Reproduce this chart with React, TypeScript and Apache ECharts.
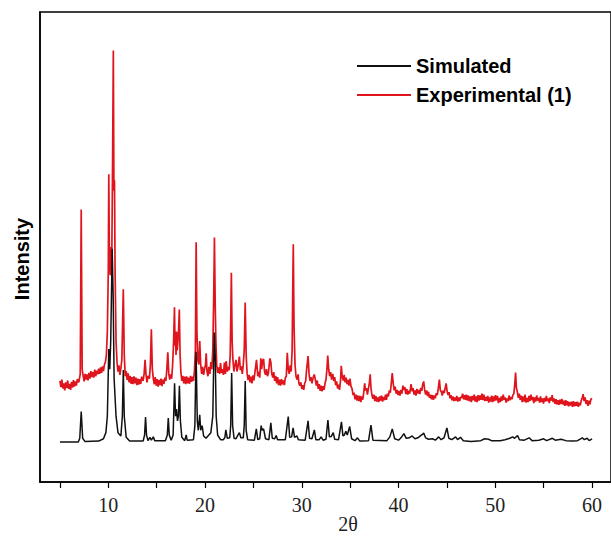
import React, { useEffect, useRef } from "react";
import * as echarts from "echarts";

// x tick values / labels
const tickValues = [5, 10, 15, 20, 25, 30, 35, 40, 45, 50, 55, 60];
const labelValues = [10, 20, 30, 40, 50, 60];

// Simulated pattern [2θ, intensity]
const simulated: number[][] = [
  [5, 8.5], [6.9, 8.5], [7.05, 9.3], [7.2, 15.0], [7.35, 9.3], [7.6, 8.6], [9.0, 8.7], [9.5, 9.2], [9.75, 10.5], [9.9, 14],
  [10.05, 28.3], [10.15, 24], [10.25, 30], [10.4, 49.6], [10.5, 40], [10.6, 22], [10.8, 14], [11.0, 10.5], [11.3, 9.8], [11.45, 14],
  [11.55, 23.8], [11.65, 14], [11.85, 9.5], [12.2, 8.7], [13.6, 8.7], [13.75, 10], [13.85, 13.8], [13.95, 10], [14.1, 8.8], [14.3, 9.5],
  [14.45, 8.9], [14.65, 9.6], [14.8, 8.8], [15.9, 8.8], [16.1, 10], [16.2, 13.6], [16.3, 10], [16.5, 8.9], [16.7, 10], [16.85, 21],
  [16.95, 14], [17.05, 15.5], [17.15, 13], [17.25, 14], [17.35, 20.5], [17.45, 13], [17.6, 9.5], [17.9, 8.8], [18.05, 10], [18.15, 8.9],
  [18.8, 9.0], [18.95, 12], [19.07, 27.7], [19.2, 13], [19.3, 11], [19.45, 14.3], [19.55, 11], [19.7, 12], [19.85, 9.8], [20.1, 9.3],
  [20.3, 9.8], [20.6, 10.5], [20.8, 14], [20.95, 31.8], [21.05, 27], [21.15, 14], [21.3, 10], [21.6, 9], [21.9, 9], [22.05, 9.5],
  [22.15, 11.1], [22.3, 9.3], [22.55, 9.4], [22.65, 12], [22.75, 23.2], [22.85, 12], [23.0, 9.3], [23.2, 9.2], [23.35, 9.8], [23.55, 10.5],
  [23.7, 9.4], [23.95, 9.4], [24.05, 12], [24.15, 21.5], [24.25, 11], [24.4, 9], [25.1, 8.9], [25.3, 11.3], [25.45, 9], [25.65, 9.2],
  [25.8, 12], [25.9, 11], [26.05, 11.3], [26.25, 9.2], [26.6, 9], [26.8, 12.6], [26.95, 9.3], [27.2, 9.2], [27.35, 9.9], [27.5, 9],
  [28.3, 9], [28.6, 13.9], [28.75, 9.5], [28.95, 9.6], [29.1, 11.5], [29.25, 9.5], [29.5, 9.8], [29.65, 9.0], [30.35, 8.9], [30.65, 13.0],
  [30.8, 9.3], [31.05, 9.2], [31.3, 11.1], [31.45, 9], [31.8, 9], [32.0, 9.6], [32.2, 8.9], [32.5, 9.1], [32.7, 13.2], [32.85, 9.6],
  [33.05, 9.7], [33.25, 10.5], [33.4, 9.1], [33.8, 9.0], [34.1, 12.8], [34.25, 9.8], [34.4, 10], [34.55, 10.8], [34.7, 10.0], [34.95, 11.8],
  [35.15, 9.2], [35.5, 8.8], [35.75, 9.4], [36.0, 8.7], [36.9, 8.8], [37.15, 12.1], [37.35, 8.9], [38.8, 8.8], [39.1, 9.6], [39.35, 11.3],
  [39.6, 9.2], [40.0, 8.9], [40.25, 9.4], [40.55, 10.3], [40.8, 9.3], [41.1, 9.4], [41.4, 9.8], [41.7, 9.2], [42.0, 9.4], [42.25, 9.8],
  [42.5, 10.2], [42.6, 10.4], [42.8, 9.4], [43.1, 9.1], [43.5, 9.2], [43.8, 8.9], [44.15, 9.6], [44.4, 9.0], [44.7, 9.4], [45.0, 11.5],
  [45.2, 9.3], [45.5, 9.0], [45.9, 9.6], [46.1, 9.0], [46.4, 9.5], [46.7, 8.8], [47.5, 8.6], [48.5, 8.8], [48.9, 9.2], [49.3, 9.1],
  [49.6, 8.8], [50.5, 8.8], [51.0, 9.0], [51.5, 9.3], [51.8, 9.6], [52.0, 9.3], [52.3, 9.9], [52.5, 9.0], [53.0, 8.9], [53.5, 9.4],
  [53.8, 8.8], [54.5, 8.9], [55.0, 9.2], [55.3, 8.8], [55.9, 9.3], [56.2, 8.9], [56.8, 9.1], [57.3, 8.8], [58.0, 8.7], [58.5, 8.8],
  [59.0, 9.4], [59.2, 9.0], [59.5, 9.3], [59.7, 8.8], [60, 9.2],
];

// Experimental pattern (1) [2θ, intensity] (offset upward)
const experimental: number[][] = [
  [5.0, 21.5], [5.1, 20.2], [5.2, 21.8], [5.3, 19.9], [5.4, 21.0], [5.5, 19.5], [5.6, 21.2], [5.7, 20.0], [5.8, 21.6], [5.9, 19.8],
  [6.0, 20.9], [6.1, 19.6], [6.2, 21.3], [6.3, 20.1], [6.4, 21.7], [6.5, 20.3], [6.6, 21.4], [6.7, 20.5], [6.8, 21.9], [6.95, 21.2],
  [7.1, 23], [7.2, 58], [7.3, 24],
  [7.4, 22.6], [7.5, 21.4], [7.6, 23.0], [7.7, 21.8], [7.8, 22.9], [7.9, 21.6], [8.0, 23.2], [8.1, 22.0], [8.2, 23.6], [8.3, 22.3],
  [8.4, 23.4], [8.5, 22.2], [8.6, 23.9], [8.7, 22.5], [8.8, 23.7], [8.9, 22.9], [9.0, 24.1], [9.1, 23.0], [9.2, 24.4], [9.3, 23.2],
  [9.4, 24.6], [9.5, 23.6], [9.6, 25.0], [9.7, 25.5], [9.8, 27], [9.9, 32],
  [10.0, 45], [10.05, 65.5], [10.12, 46], [10.2, 44], [10.28, 50], [10.35, 45], [10.45, 70], [10.52, 91.8], [10.58, 62], [10.64, 64.2],
  [10.7, 45], [10.8, 30], [10.9, 25.5], [11.0, 23.5], [11.1, 24.8], [11.2, 22.8], [11.3, 24.2], [11.4, 26], [11.55, 41], [11.65, 27],
  [11.75, 22.5], [11.85, 23.6], [11.95, 21.7], [12.05, 23.1], [12.15, 21.2], [12.25, 22.6], [12.35, 20.9], [12.45, 22.3], [12.55, 20.8], [12.65, 22.5],
  [12.75, 21.0], [12.85, 22.2], [12.95, 20.6], [13.05, 22.0], [13.15, 20.7], [13.25, 21.9], [13.35, 20.9], [13.45, 22.4], [13.6, 21.5], [13.7, 23],
  [13.8, 26], [13.9, 22.8], [14.0, 21.2], [14.1, 22.6], [14.25, 22.0], [14.35, 25], [14.45, 32.5], [14.55, 24], [14.65, 22.0], [14.75, 20.8],
  [14.85, 22.3], [14.95, 20.5], [15.05, 21.9], [15.15, 20.3], [15.25, 21.7], [15.35, 20.6], [15.45, 22.0], [15.55, 20.4], [15.65, 21.8], [15.75, 20.9],
  [15.85, 22.2], [15.95, 21.5], [16.05, 24], [16.15, 27.6], [16.25, 23], [16.35, 21.8], [16.45, 22.9], [16.55, 22.0], [16.65, 25], [16.75, 30],
  [16.84, 37.2], [16.9, 29], [16.95, 31], [17.0, 27], [17.05, 32], [17.12, 28], [17.2, 30], [17.28, 33], [17.34, 36.7], [17.42, 27],
  [17.5, 23.5], [17.6, 21.5], [17.7, 22.6], [17.8, 21.0], [17.9, 22.4], [18.0, 20.8], [18.1, 22.5], [18.2, 21.0], [18.3, 22.2], [18.4, 20.9],
  [18.5, 22.6], [18.6, 21.3], [18.7, 22.4], [18.8, 21.5], [18.9, 23.5], [19.0, 28], [19.08, 51], [19.16, 32], [19.25, 26], [19.35, 25],
  [19.45, 30], [19.55, 25], [19.65, 23], [19.75, 24.5], [19.85, 22.8], [19.95, 24], [20.05, 25], [20.12, 27.4], [20.2, 23.5], [20.3, 22.5],
  [20.4, 24.5], [20.5, 23], [20.6, 25.5], [20.7, 24], [20.8, 28], [20.9, 40], [20.97, 52], [21.05, 38], [21.12, 30], [21.2, 25],
  [21.3, 23.2], [21.4, 24.4], [21.5, 23], [21.6, 25.3], [21.7, 23.2], [21.8, 24], [21.9, 22.8], [22.0, 25.4], [22.1, 23], [22.18, 25.7],
  [22.3, 23.5], [22.4, 24.5], [22.5, 23.8], [22.6, 27], [22.66, 35], [22.72, 44.5], [22.8, 30], [22.88, 26], [22.98, 23.5], [23.08, 24.8],
  [23.2, 26], [23.3, 23.5], [23.4, 24.5], [23.55, 26.7], [23.65, 23.8], [23.75, 24.6], [23.85, 23], [23.95, 25], [24.05, 28], [24.15, 38.2],
  [24.25, 27], [24.35, 23], [24.45, 21.7], [24.55, 22.8], [24.65, 21.2], [24.75, 22.4], [24.85, 21.0], [24.95, 22.7], [25.05, 21.6], [25.15, 23.2],
  [25.32, 26], [25.45, 22.5], [25.55, 23.5], [25.65, 22.2], [25.77, 26.3], [25.85, 24], [25.95, 25.8], [26.05, 26.2], [26.15, 23.5], [26.25, 22.8],
  [26.35, 24], [26.45, 22.5], [26.55, 23.2], [26.7, 26.3], [26.8, 25.5], [26.9, 23], [27.0, 22.2], [27.1, 23.4], [27.2, 21.5], [27.3, 22.6],
  [27.4, 21.0], [27.5, 22.3], [27.6, 20.6], [27.7, 21.8], [27.8, 20.5], [27.9, 21.9], [28.0, 20.8], [28.1, 21.6], [28.2, 20.6], [28.3, 22.2],
  [28.4, 22.5], [28.5, 27.5], [28.6, 24], [28.7, 23], [28.8, 24.8], [28.9, 23.5], [29.0, 28], [29.06, 40], [29.12, 50.6], [29.2, 33],
  [29.3, 25], [29.4, 22.5], [29.5, 21.8], [29.62, 22.9], [29.7, 21], [29.8, 20.5], [29.9, 21.2], [30.0, 19.8], [30.1, 20.6], [30.2, 19.6],
  [30.3, 21], [30.4, 21.5], [30.5, 24], [30.65, 26.8], [30.75, 23], [30.85, 21.5], [30.95, 22.3], [31.05, 21], [31.15, 22], [31.28, 22.9],
  [31.4, 21.8], [31.5, 20.5], [31.6, 21.6], [31.7, 19.8], [31.8, 20.8], [31.9, 19.4], [32.0, 20.5], [32.1, 19.3], [32.2, 20.4], [32.3, 19.6],
  [32.4, 21], [32.5, 21.8], [32.6, 24], [32.68, 26.9], [32.78, 24], [32.88, 22.5], [32.98, 23.4], [33.08, 21.8], [33.2, 23], [33.3, 21.5],
  [33.4, 22.3], [33.5, 20.6], [33.6, 21.4], [33.7, 19.9], [33.8, 20.7], [33.9, 19.6], [34.0, 21.5], [34.08, 24.7], [34.18, 22.4], [34.28, 21.6],
  [34.38, 22.8], [34.48, 21.2], [34.58, 22.2], [34.68, 20.8], [34.78, 21.7], [34.88, 20.5], [34.98, 22], [35.08, 20.4], [35.2, 19.8], [35.3, 18.5],
  [35.4, 19], [35.5, 17.6], [35.6, 18.6], [35.7, 17.3], [35.8, 18.4], [35.9, 17.2], [36.0, 18.3], [36.1, 17.0], [36.2, 18.2], [36.3, 17.5],
  [36.4, 19], [36.5, 21], [36.58, 19.5], [36.68, 20], [36.78, 18.6], [36.88, 19.8], [36.98, 21], [37.07, 22.9], [37.15, 20], [37.25, 18.5],
  [37.35, 17.7], [37.45, 18.6], [37.55, 17.2], [37.65, 18.3], [37.75, 17.1], [37.85, 18.0], [37.95, 17.0], [38.05, 18.2], [38.15, 17.3], [38.25, 18.4],
  [38.35, 17.1], [38.45, 18.1], [38.55, 17.4], [38.65, 18.6], [38.75, 17.5], [38.85, 18.8], [38.95, 18.2], [39.05, 19.5], [39.15, 19.0], [39.25, 21],
  [39.35, 23.2], [39.45, 21], [39.55, 19.5], [39.65, 20.3], [39.75, 18.8], [39.85, 19.6], [39.95, 18.5], [40.05, 19.4], [40.15, 18.4], [40.25, 19.6],
  [40.35, 18.8], [40.45, 20.5], [40.55, 19.6], [40.65, 20.2], [40.75, 18.7], [40.85, 19.8], [40.95, 18.6], [41.05, 19.4], [41.15, 18.8], [41.3, 20.8],
  [41.4, 19.3], [41.5, 20], [41.6, 18.6], [41.7, 19.5], [41.8, 18.4], [41.9, 19.8], [42.0, 18.8], [42.1, 19.6], [42.2, 18.7], [42.3, 20],
  [42.4, 19.4], [42.5, 20.8], [42.6, 21.4], [42.7, 19.6], [42.8, 18.6], [42.9, 19.5], [43.0, 18.3], [43.1, 19.2], [43.2, 17.9], [43.3, 18.6],
  [43.4, 17.6], [43.5, 18.5], [43.6, 17.5], [43.7, 18.4], [43.8, 17.8], [43.9, 18.9], [44.0, 18.5], [44.1, 19.8], [44.22, 21.8], [44.32, 19.5],
  [44.42, 19.2], [44.52, 18.4], [44.62, 19.5], [44.72, 18.9], [44.82, 20], [44.92, 21], [45.02, 19.3], [45.12, 18.5], [45.22, 19.1], [45.32, 17.8],
  [45.42, 18.5], [45.52, 17.4], [45.62, 18.2], [45.72, 17.2], [45.82, 18.0], [45.92, 17.3], [46.02, 18.3], [46.12, 17.1], [46.22, 18.0], [46.32, 17.2],
  [46.42, 18.1], [46.52, 17.9], [46.62, 18.8], [46.72, 17.6], [46.82, 18.5], [46.92, 17.5], [47.02, 18.6], [47.12, 17.3], [47.22, 18.4], [47.32, 17.2],
  [47.42, 18.2], [47.52, 17.0], [47.62, 18.3], [47.72, 17.4], [47.82, 18.6], [47.92, 17.1], [48.02, 18.2], [48.12, 17.0], [48.22, 18.5], [48.32, 17.3],
  [48.42, 18.4], [48.52, 17.5], [48.62, 18.8], [48.72, 17.4], [48.82, 18.6], [48.92, 17.2], [49.02, 18.1], [49.12, 17.3], [49.22, 18.3], [49.32, 16.9],
  [49.42, 18.0], [49.52, 17.1], [49.62, 18.4], [49.72, 17.0], [49.82, 18.2], [49.92, 17.2], [50.02, 18.5], [50.12, 17.4], [50.22, 18.3], [50.32, 16.8],
  [50.42, 17.9], [50.52, 17.0], [50.62, 18.2], [50.72, 17.3], [50.82, 18.6], [50.92, 17.5], [51.02, 18.0], [51.12, 16.9], [51.22, 17.8], [51.32, 17.2],
  [51.42, 18.4], [51.52, 17.4], [51.62, 18.1], [51.72, 17.6], [51.82, 18.5], [51.92, 18.8], [52.02, 21], [52.1, 23.3], [52.18, 20], [52.28, 19.2],
  [52.38, 17.9], [52.48, 18.8], [52.58, 17.5], [52.68, 18.4], [52.78, 17.0], [52.88, 18.2], [52.98, 17.1], [53.08, 18.6], [53.18, 16.9], [53.28, 17.9],
  [53.38, 17.0], [53.48, 18.3], [53.58, 17.2], [53.68, 18.6], [53.78, 17.4], [53.88, 18.1], [53.98, 16.8], [54.08, 18.0], [54.18, 17.1], [54.28, 18.4],
  [54.38, 17.3], [54.48, 17.9], [54.58, 16.9], [54.68, 18.2], [54.78, 17.0], [54.88, 17.8], [54.98, 16.7], [55.08, 17.9], [55.18, 17.1], [55.28, 18.3],
  [55.38, 17.2], [55.48, 17.8], [55.58, 16.8], [55.68, 18.0], [55.78, 17.3], [55.88, 18.5], [55.98, 17.0], [56.08, 17.8], [56.18, 16.6], [56.28, 17.6],
  [56.38, 16.5], [56.48, 17.4], [56.58, 16.4], [56.68, 17.5], [56.78, 16.6], [56.88, 17.7], [56.98, 16.5], [57.08, 17.3], [57.18, 16.2], [57.28, 17.4],
  [57.38, 16.3], [57.48, 17.2], [57.58, 16.1], [57.68, 17.0], [57.78, 16.3], [57.88, 17.1], [57.98, 16.0], [58.08, 17.2], [58.18, 16.1], [58.28, 17.0],
  [58.38, 16.2], [58.48, 17.1], [58.58, 16.0], [58.68, 16.9], [58.78, 16.3], [58.88, 17.3], [58.98, 17.8], [59.08, 18.7], [59.18, 17.2], [59.28, 18.0],
  [59.38, 16.6], [59.48, 17.4], [59.58, 16.2], [59.68, 17.3], [59.78, 16.5], [59.88, 17.6], [60.0, 17.8],
];

const RED = "#e0141c";
const BLACK = "#111111";

export default function App() {
  const ref = useRef<HTMLDivElement>(null);
  useEffect(() => {
    if (!ref.current) return;
    const chart = echarts.init(ref.current, undefined, { renderer: "svg" });
    chart.setOption({
      animation: false,
      backgroundColor: "#ffffff",
      grid: {
        left: 40,
        top: 12,
        right: -2,
        bottom: 54,
        show: true,
        borderColor: "#000",
        borderWidth: 1.5,
        backgroundColor: "transparent",
      },
      legend: {
        orient: "vertical",
        left: 357,
        top: 56,
        padding: 0,
        itemGap: 9,
        itemWidth: 54,
        itemHeight: 2,
        icon: "rect",
        data: ["Simulated", "Experimental (1)"],
        textStyle: {
          fontFamily: "Liberation Sans",
          fontWeight: "bold",
          fontSize: 20,
          lineHeight: 20,
          color: "#000",
        },
      },
      xAxis: {
        type: "value",
        min: 2.94,
        max: 61.96,
        axisLine: { show: true, lineStyle: { color: "#000", width: 1.5 } },
        axisTick: {
          show: true,
          inside: false,
          length: 6,
          customValues: tickValues,
          lineStyle: { color: "#000", width: 1.2 },
        },
        axisLabel: {
          customValues: labelValues,
          fontFamily: "Liberation Serif",
          fontSize: 20,
          color: "#222",
          margin: 13,
        },
        splitLine: { show: false },
      },
      yAxis: {
        type: "value",
        min: 0,
        max: 100,
        axisLine: { show: true, lineStyle: { color: "#000", width: 1.5 } },
        axisTick: { show: false },
        axisLabel: { show: false },
        splitLine: { show: false },
      },
      graphic: [
        {
          type: "text",
          x: 22,
          y: 259,
          rotation: Math.PI / 2,
          style: {
            text: "Intensity",
            font: 'bold 20px "Liberation Sans"',
            fill: "#000",
            align: "center",
            verticalAlign: "middle",
          },
        },
        {
          type: "text",
          x: 348,
          y: 524,
          style: {
            text: "2θ",
            font: '20px "Liberation Serif"',
            fill: "#222",
            align: "center",
            verticalAlign: "middle",
          },
        },
      ],
      series: [
        {
          name: "Experimental (1)",
          type: "line",
          data: experimental,
          symbol: "none",
          showSymbol: false,
          lineStyle: { color: RED, width: 1.7 },
          itemStyle: { color: RED },
        },
        {
          name: "Simulated",
          type: "line",
          data: simulated,
          symbol: "none",
          showSymbol: false,
          lineStyle: { color: BLACK, width: 1.5 },
          itemStyle: { color: BLACK },
        },
      ],
    });
    return () => chart.dispose();
  }, []);
  return (
    <div
      ref={ref}
      style={{ position: "absolute", left: 0, top: 0, width: 611, height: 536, background: "#fff" }}
    />
  );
}
